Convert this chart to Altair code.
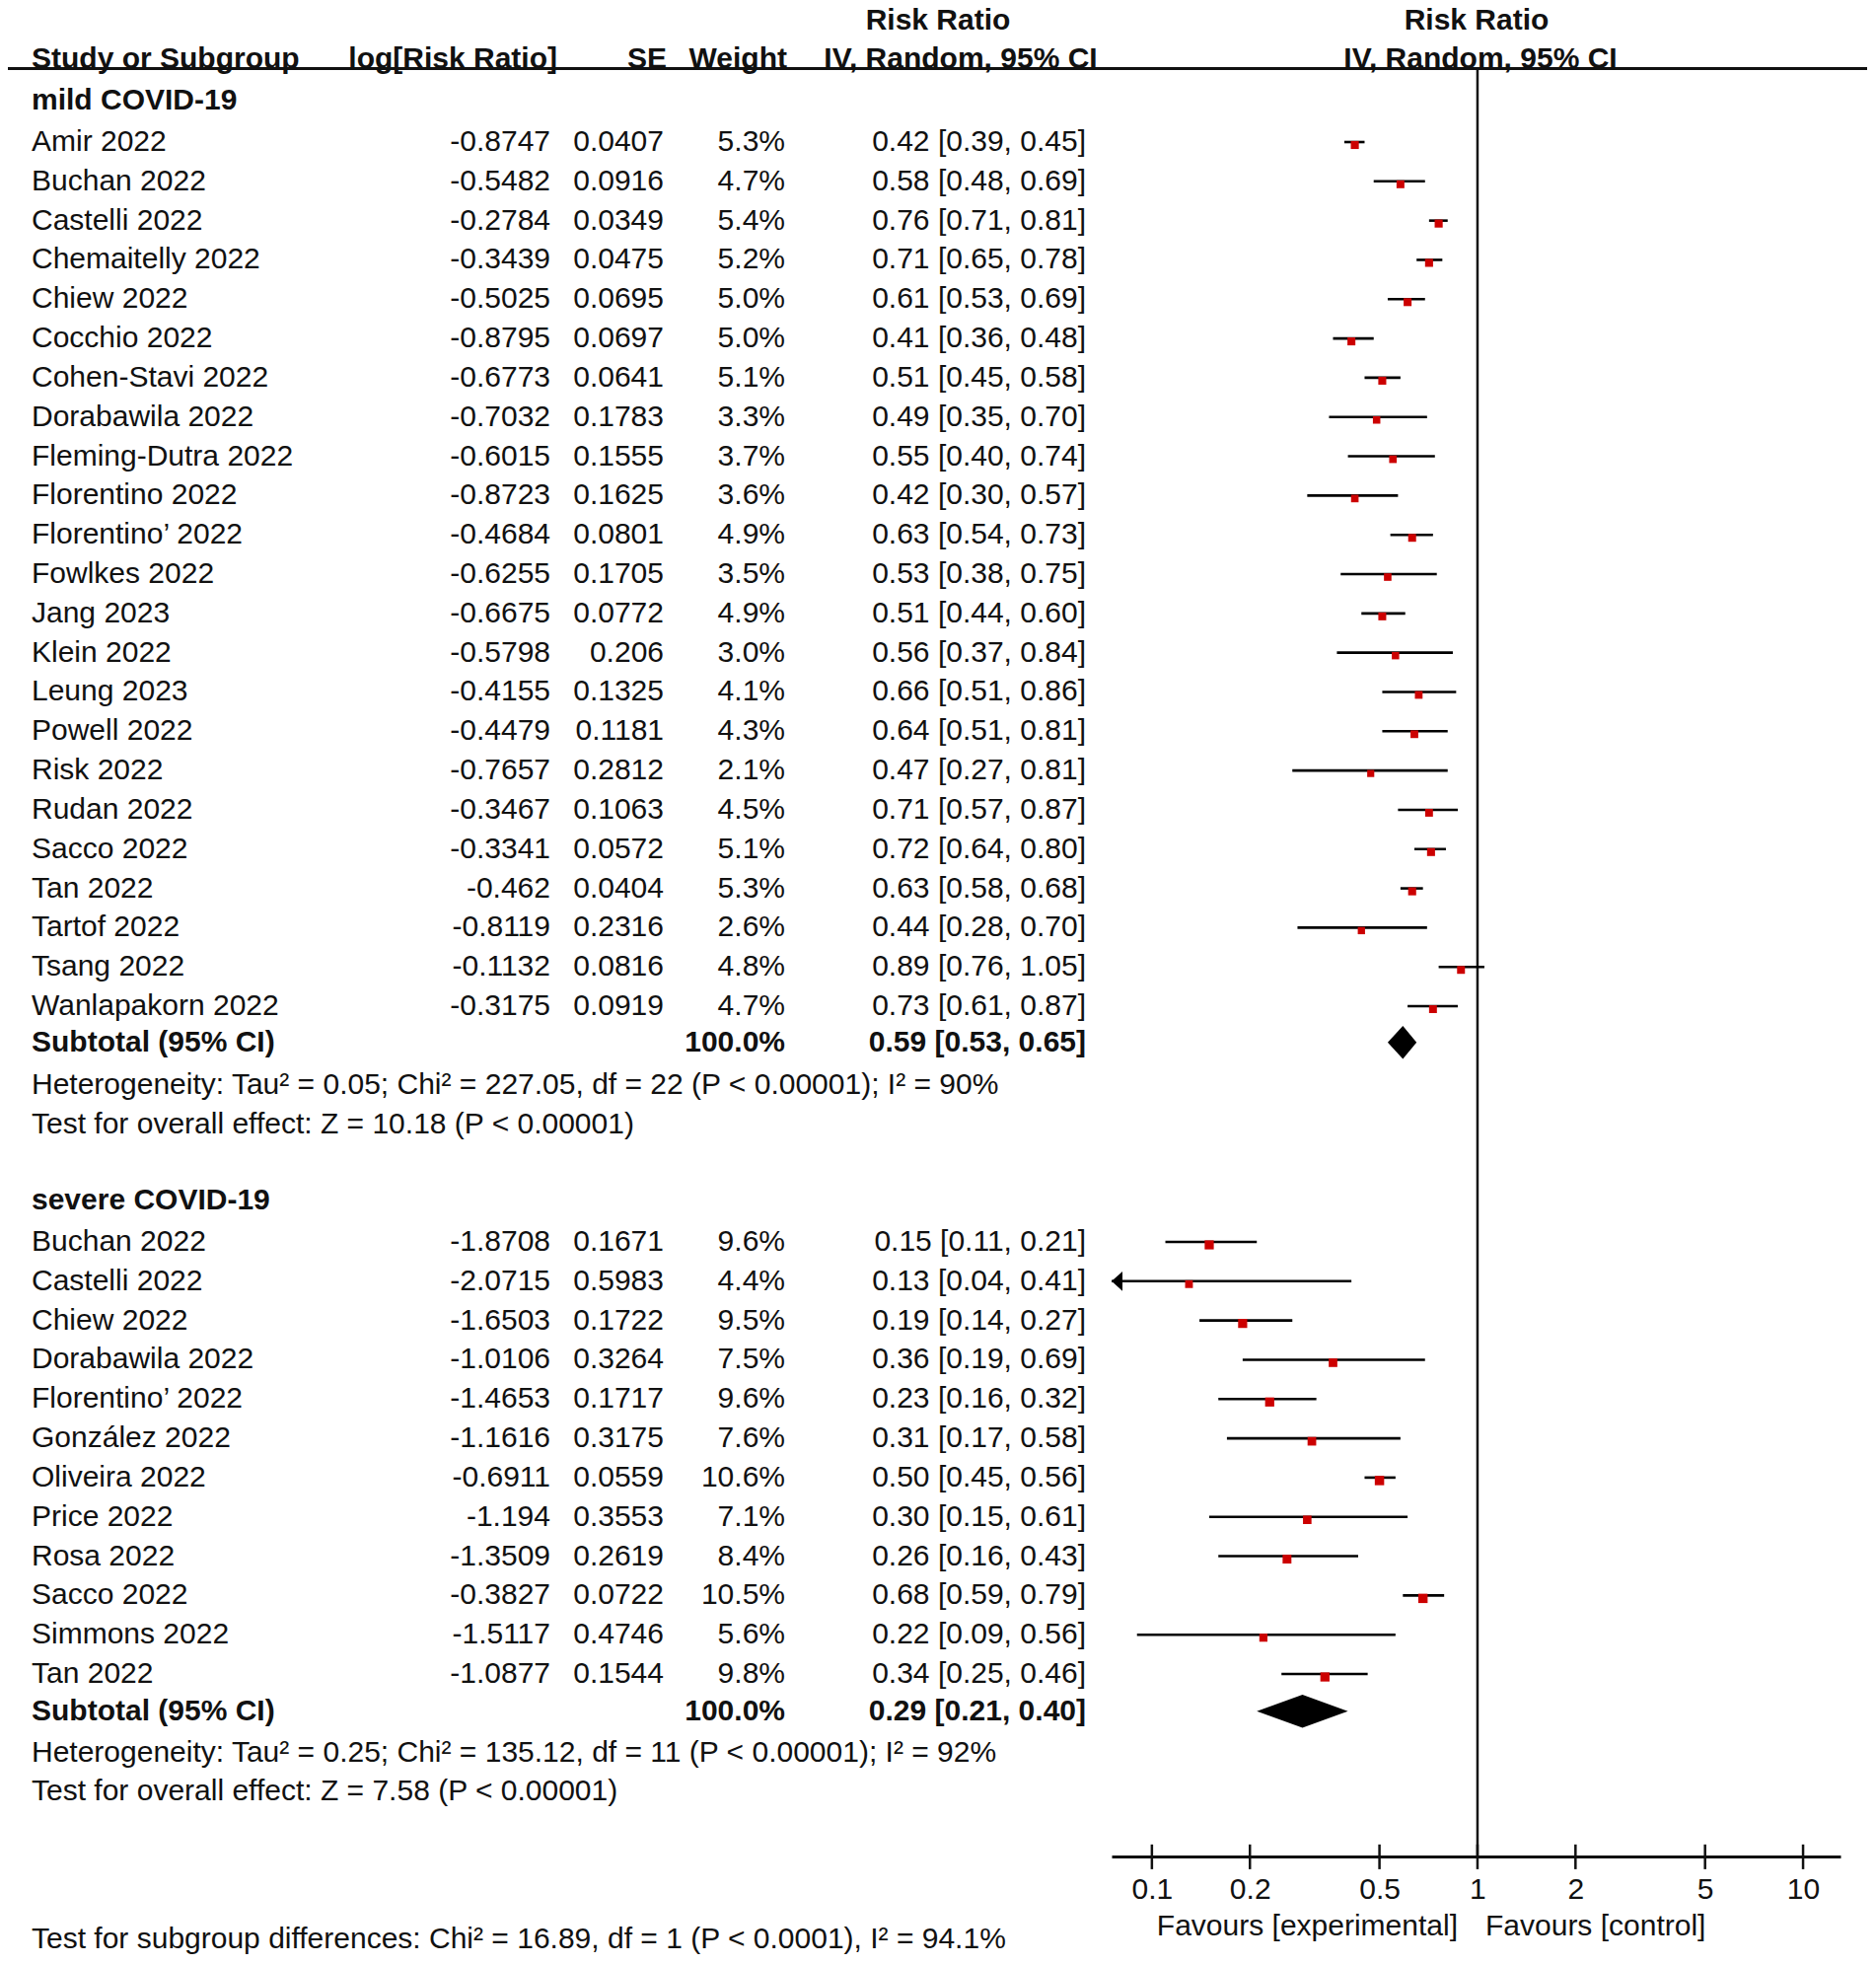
import altair as alt
import pandas as pd

# ---------------- data ----------------
mild_names = ["Amir 2022", "Buchan 2022", "Castelli 2022", "Chemaitelly 2022", "Chiew 2022",
              "Cocchio 2022", "Cohen-Stavi 2022", "Dorabawila 2022", "Fleming-Dutra 2022",
              "Florentino 2022", "Florentino\u2019 2022", "Fowlkes 2022", "Jang 2023", "Klein 2022",
              "Leung 2023", "Powell 2022", "Risk 2022", "Rudan 2022", "Sacco 2022", "Tan 2022",
              "Tartof 2022", "Tsang 2022", "Wanlapakorn 2022"]
mild_logrr = ["-0.8747", "-0.5482", "-0.2784", "-0.3439", "-0.5025", "-0.8795", "-0.6773", "-0.7032",
              "-0.6015", "-0.8723", "-0.4684", "-0.6255", "-0.6675", "-0.5798", "-0.4155", "-0.4479",
              "-0.7657", "-0.3467", "-0.3341", "-0.462", "-0.8119", "-0.1132", "-0.3175"]
mild_se = ["0.0407", "0.0916", "0.0349", "0.0475", "0.0695", "0.0697", "0.0641", "0.1783", "0.1555",
           "0.1625", "0.0801", "0.1705", "0.0772", "0.206", "0.1325", "0.1181", "0.2812", "0.1063",
           "0.0572", "0.0404", "0.2316", "0.0816", "0.0919"]
mild_weight = [5.3, 4.7, 5.4, 5.2, 5.0, 5.0, 5.1, 3.3, 3.7, 3.6, 4.9, 3.5, 4.9, 3.0, 4.1, 4.3, 2.1,
               4.5, 5.1, 5.3, 2.6, 4.8, 4.7]
mild_rr = [0.42, 0.58, 0.76, 0.71, 0.61, 0.41, 0.51, 0.49, 0.55, 0.42, 0.63, 0.53, 0.51, 0.56, 0.66,
           0.64, 0.47, 0.71, 0.72, 0.63, 0.44, 0.89, 0.73]
mild_lo = [0.39, 0.48, 0.71, 0.65, 0.53, 0.36, 0.45, 0.35, 0.40, 0.30, 0.54, 0.38, 0.44, 0.37, 0.51,
           0.51, 0.27, 0.57, 0.64, 0.58, 0.28, 0.76, 0.61]
mild_hi = [0.45, 0.69, 0.81, 0.78, 0.69, 0.48, 0.58, 0.70, 0.74, 0.57, 0.73, 0.75, 0.60, 0.84, 0.86,
           0.81, 0.81, 0.87, 0.80, 0.68, 0.70, 1.05, 0.87]

severe_names = ["Buchan 2022", "Castelli 2022", "Chiew 2022", "Dorabawila 2022", "Florentino\u2019 2022",
                "Gonz\u00e1lez 2022", "Oliveira 2022", "Price 2022", "Rosa 2022", "Sacco 2022",
                "Simmons 2022", "Tan 2022"]
severe_logrr = ["-1.8708", "-2.0715", "-1.6503", "-1.0106", "-1.4653", "-1.1616", "-0.6911", "-1.194",
                "-1.3509", "-0.3827", "-1.5117", "-1.0877"]
severe_se = ["0.1671", "0.5983", "0.1722", "0.3264", "0.1717", "0.3175", "0.0559", "0.3553", "0.2619",
             "0.0722", "0.4746", "0.1544"]
severe_weight = [9.6, 4.4, 9.5, 7.5, 9.6, 7.6, 10.6, 7.1, 8.4, 10.5, 5.6, 9.8]
severe_rr = [0.15, 0.13, 0.19, 0.36, 0.23, 0.31, 0.50, 0.30, 0.26, 0.68, 0.22, 0.34]
severe_lo = [0.11, 0.04, 0.14, 0.19, 0.16, 0.17, 0.45, 0.15, 0.16, 0.59, 0.09, 0.25]
severe_hi = [0.21, 0.41, 0.27, 0.69, 0.32, 0.58, 0.56, 0.61, 0.43, 0.79, 0.56, 0.46]

group_names = ["mild COVID-19", "severe COVID-19"]
subtotal_rr = [0.59, 0.29]
subtotal_lo = [0.53, 0.21]
subtotal_hi = [0.65, 0.40]
het_text = ["Heterogeneity: Tau\u00b2 = 0.05; Chi\u00b2 = 227.05, df = 22 (P < 0.00001); I\u00b2 = 90%",
            "Heterogeneity: Tau\u00b2 = 0.25; Chi\u00b2 = 135.12, df = 11 (P < 0.00001); I\u00b2 = 92%"]
effect_text = ["Test for overall effect: Z = 10.18 (P < 0.00001)",
               "Test for overall effect: Z = 7.58 (P < 0.00001)"]
subgroup_text = "Test for subgroup differences: Chi\u00b2 = 16.89, df = 1 (P < 0.0001), I\u00b2 = 94.1%"
tick_values = [0.1, 0.2, 0.5, 1, 2, 5, 10]
favours_left = "Favours [experimental]"
favours_right = "Favours [control]"

# ---------------- layout ----------------
FONT = "Liberation Sans"
FS = 30
TXT = "#111111"
RED = "#cc0000"
PAD_TOP = 6
W, H = 1886, 1868
XMIN, XMAX = 0.0752, 13.03

mild_start, severe_start = 0, 28
group_rows = [-1.06, 26.95]
sub_rows = [22.92, 39.95]
het_rows = [24, 41]
eff_rows = [25, 42]
HEAD1, HEAD2, HLINE, AXISROW = -3.09, -2.11, -1.87, 43.64

xs = alt.Scale(type="log", domain=[XMIN, XMAX], range=[1119, 1858], clamp=True, nice=False)
ys = alt.Scale(domain=[0, 39], range=[130, 1683], nice=False, zero=False)
xaxis = alt.Axis(values=tick_values, format="~g", title=None, grid=False, ticks=False,
                 domainColor="#111111", domainWidth=3, labelFont=FONT, labelFontSize=FS,
                 labelColor=TXT, labelPadding=18, labelFlush=False, labelOverlap=False)


def X(field):
    return alt.X(f"{field}:Q", scale=xs, axis=xaxis, title=None)


def Y(field):
    return alt.Y(f"{field}:Q", scale=ys, axis=None, title=None)


rows = []
for names, lr, se, w, rr, lo, hi, start in [
        (mild_names, mild_logrr, mild_se, mild_weight, mild_rr, mild_lo, mild_hi, mild_start),
        (severe_names, severe_logrr, severe_se, severe_weight, severe_rr, severe_lo, severe_hi, severe_start)]:
    for i in range(len(names)):
        rows.append(dict(name=names[i], logrr=lr[i], se=se[i], w=w[i], wtxt=f"{w[i]:.1f}%",
                         rr=rr[i], lo=lo[i], hi=hi[i],
                         ci=f"{rr[i]:.2f} [{lo[i]:.2f}, {hi[i]:.2f}]", row=start + i))
studies = pd.DataFrame(rows)

groups = pd.DataFrame(dict(name=group_names, row=group_rows))
subs = pd.DataFrame(dict(label=["Subtotal (95% CI)"] * 2, wt=["100.0%"] * 2,
                         ci=[f"{r:.2f} [{l:.2f}, {h:.2f}]" for r, l, h in zip(subtotal_rr, subtotal_lo, subtotal_hi)],
                         row=sub_rows))
notes = pd.DataFrame(dict(label=het_text + effect_text, row=het_rows + eff_rows))

dia = []
for g in range(2):
    r = sub_rows[g]
    dia += [dict(g=g, dx=subtotal_lo[g], dy=r, dy2=r),
            dict(g=g, dx=subtotal_rr[g], dy=r - 0.42, dy2=r + 0.42),
            dict(g=g, dx=subtotal_hi[g], dy=r, dy2=r)]
diamonds = pd.DataFrame(dia)


def txt(df, field, x, align, bold=False, y_field="row", y_value=None, baseline="middle"):
    m = alt.Chart(df).mark_text(align=align, baseline=baseline, font=FONT, fontSize=FS,
                                fontWeight="bold" if bold else "normal", color=TXT)
    enc = dict(x=alt.value(x), text=alt.Text(f"{field}:N"))
    enc["y"] = alt.value(y_value) if y_value is not None else Y(y_field)
    return m.encode(**enc)


layers = []

# header line
layers.append(alt.Chart(pd.DataFrame(dict(row=[HLINE]))).mark_rule(color="#111111", strokeWidth=3)
              .encode(x=alt.value(0), x2=alt.value(W - 1), y=Y("row")))
# line of no effect
layers.append(alt.Chart(pd.DataFrame(dict(v=[1.0], y1=[HLINE], y2=[AXISROW])))
              .mark_rule(color="#111111", strokeWidth=2.5)
              .encode(x=X("v"), y=Y("y1"), y2=alt.Y2("y2")))
# axis ticks crossing the axis line
layers.append(alt.Chart(pd.DataFrame(dict(t=tick_values, y1=[AXISROW - 0.3] * 7, y2=[AXISROW + 0.33] * 7)))
              .mark_rule(color="#111111", strokeWidth=2.5)
              .encode(x=X("t"), y=Y("y1"), y2=alt.Y2("y2")))
# CI lines
layers.append(alt.Chart(studies).mark_rule(color="#000000", strokeWidth=2.6)
              .encode(x=X("lo"), x2=alt.X2("hi"), y=Y("row")))
# arrows for CIs off the scale
layers.append(alt.Chart(studies[studies["lo"] < XMIN])
              .mark_point(shape="M-1,0L1,-1.8L1,1.8Z", filled=True, color="#000000", opacity=1,
                          size=121, xOffset=5.5)
              .encode(x=X("lo"), y=Y("row")))
# weight squares
layers.append(alt.Chart(studies).mark_square(color=RED, opacity=1, yOffset=3)
              .encode(x=X("rr"), y=Y("row"),
                      size=alt.Size("w:Q", scale=alt.Scale(domain=[0, 10.6], range=[42, 90]), legend=None)))
# diamonds
layers.append(alt.Chart(diamonds).mark_area(color="#000000", opacity=1)
              .encode(x=X("dx"), y=Y("dy"), y2=alt.Y2("dy2"), detail="g:N"))

# study columns
layers.append(txt(studies, "name", 24, "left"))
layers.append(txt(studies, "logrr", 550, "right"))
layers.append(txt(studies, "se", 665, "right"))
layers.append(txt(studies, "wtxt", 788, "right"))
layers.append(txt(studies, "ci", 1093, "right"))

# groups, subtotals, notes
layers.append(txt(groups, "name", 24, "left", bold=True))
layers.append(txt(subs, "label", 24, "left", bold=True))
layers.append(txt(subs, "wt", 788, "right", bold=True))
layers.append(txt(subs, "ci", 1093, "right", bold=True))
layers.append(txt(notes, "label", 24, "left"))

# column headers
hdr = lambda s, r: pd.DataFrame(dict(label=[s], row=[r]))
layers.append(txt(hdr("Study or Subgroup", HEAD2), "label", 24, "left", bold=True))
layers.append(txt(hdr("log[Risk Ratio]", HEAD2), "label", 557, "right", bold=True))
layers.append(txt(hdr("SE", HEAD2), "label", 668, "right", bold=True))
layers.append(txt(hdr("Weight", HEAD2), "label", 790, "right", bold=True))
layers.append(txt(hdr("Risk Ratio", HEAD1), "label", 943, "center", bold=True))
layers.append(txt(hdr("IV, Random, 95% CI", HEAD2), "label", 966, "center", bold=True))
layers.append(txt(hdr("Risk Ratio", HEAD1), "label", 1489, "center", bold=True))
layers.append(txt(hdr("IV, Random, 95% CI", HEAD2), "label", 1493, "center", bold=True))

# favours and subgroup test
one = lambda s: pd.DataFrame(dict(label=[s]))
layers.append(txt(one(favours_left), "label", 1470, "right", y_value=1939))
layers.append(txt(one(favours_right), "label", 1498, "left", y_value=1939))
layers.append(txt(one(subgroup_text), "label", 24, "left", y_value=1961, baseline="alphabetic"))

chart = (alt.layer(*layers)
         .properties(width=W, height=H, background="white",
                     autosize=alt.AutoSizeParams(type="none"),
                     padding={"left": 0, "top": PAD_TOP, "right": 0, "bottom": 101})
         .configure_view(stroke=None))

chart.save("out.html", embed_options={"renderer": "svg", "actions": False})
